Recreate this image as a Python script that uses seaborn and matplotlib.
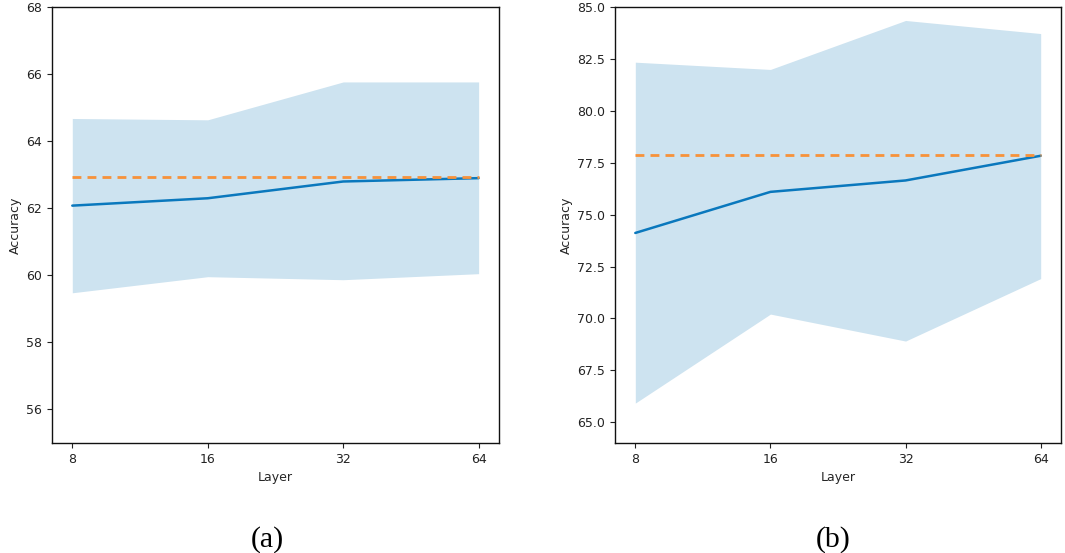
import numpy as np
import pandas as pd
import matplotlib
matplotlib.use('Agg')
import matplotlib.pyplot as plt
import seaborn as sns

sns.set_style('ticks')
plt.rcParams['font.family'] = ['DejaVu Sans']

# Data
layers = ['8', '16', '32', '64']

acc_a = [62.08, 62.30, 62.80, 62.90]
upper_a = [64.68, 64.64, 65.77, 65.77]
lower_a = [59.48, 59.96, 59.87, 60.05]
base_a = 62.93

acc_b = [74.12, 76.10, 76.65, 77.84]
upper_b = [82.35, 82.00, 84.36, 83.73]
lower_b = [65.92, 70.21, 68.91, 71.92]
base_b = 77.86

line_color = '#0a78bd'
band_color = '#cde3f0'
base_color = '#f7923a'

fig = plt.figure(figsize=(10.65, 5.53), dpi=100)
ax_a = fig.add_axes([0.0488, 0.199, 0.4197, 0.788])
ax_b = fig.add_axes([0.5775, 0.199, 0.4187, 0.788])

panels = [
    (ax_a, acc_a, upper_a, lower_a, base_a, (55, 68), np.arange(56, 68.1, 2), '{:.0f}'),
    (ax_b, acc_b, upper_b, lower_b, base_b, (64, 85), np.arange(65, 85.1, 2.5), '{:.1f}'),
]

for ax, acc, up, lo, base, ylim, yt, fmt in panels:
    df = pd.DataFrame({'Layer': layers, 'Accuracy': acc})
    pos = np.arange(len(layers))
    ax.fill_between(pos, lo, up, color=band_color, linewidth=0)
    sns.lineplot(data=df, x='Layer', y='Accuracy', ax=ax, color=line_color, linewidth=1.8)
    ax.plot([pos[0], pos[-1]], [base, base], color=base_color, linestyle=(0, (3.2, 2.2)),
            linewidth=2.0)
    ax.set_xlim(-0.15, len(layers) - 1 + 0.15)
    ax.set_ylim(*ylim)
    ax.set_xticks(pos)
    ax.set_xticklabels(layers)
    ax.set_yticks(yt)
    ax.set_yticklabels([fmt.format(v) for v in yt])
    ax.tick_params(labelsize=9, length=3.5, width=0.8, colors='#222222')
    ax.set_xlabel('Layer', fontsize=9, labelpad=4)
    ax.set_ylabel('Accuracy', fontsize=9, labelpad=3)
    for sp in ax.spines.values():
        sp.set_color('#111111')
        sp.set_linewidth(1.0)

fig.text(0.251, 0.012, '(a)', fontsize=21.5, family='Liberation Serif', ha='center',
         va='baseline', color='black')
fig.text(0.782, 0.012, '(b)', fontsize=21.5, family='Liberation Serif', ha='center',
         va='baseline', color='black')

fig.savefig('out.png', dpi=100)
